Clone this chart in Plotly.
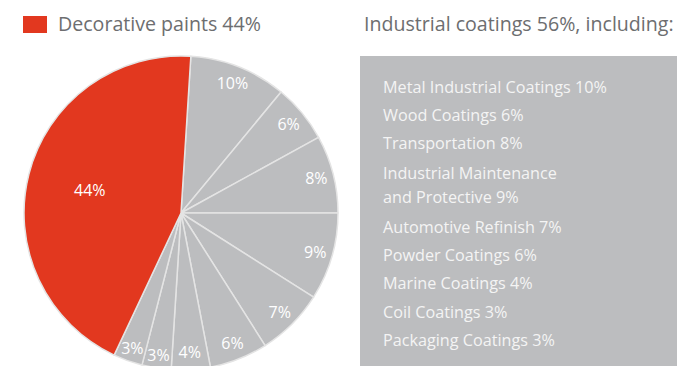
import plotly.graph_objects as go

# ---- data ----
segments = ["Metal Industrial Coatings", "Wood Coatings", "Transportation",
            "Industrial Maintenance and Protective", "Automotive Refinish",
            "Powder Coatings", "Marine Coatings", "Coil Coatings",
            "Packaging Coatings", "Decorative paints"]
shares = [10, 6, 8, 9, 7, 6, 4, 3, 3, 44]
box_labels = ["Metal Industrial Coatings 10%", "Wood Coatings 6%", "Transportation 8%",
              "Industrial Maintenance<br>and Protective 9%", "Automotive Refinish 7%",
              "Powder Coatings 6%", "Marine Coatings 4%", "Coil Coatings 3%",
              "Packaging Coatings 3%"]
legend_red = "Decorative paints 44%"
legend_gray = "Industrial coatings 56%, including:"

RED = "#e2381f"
GRAY = "#bcbdbf"
FONT = "Open Sans"
W, H = 677, 372   # slightly taller than the window so the pie is clipped at the bottom


def px(x):
    return x / W


def py(y):
    return 1 - y / H


colors = [GRAY] * 9 + [RED]
is_red = [s == "Decorative paints" for s in segments]
pct = [f"{v}%" for v in shares]

CX, CY, R = 181, 213, 157
dom_x = [px(CX - R), px(CX + R)]
dom_y = [py(CY + R), py(CY - R)]

common = dict(labels=segments, values=shares, sort=False, direction="clockwise",
              rotation=3.6, textinfo="text", textposition="inside",
              insidetextorientation="horizontal",
              textfont=dict(family=FONT, size=16, color="white"),
              domain=dict(x=dom_x, y=dom_y), showlegend=False)

fig = go.Figure()
# full pie: the coloured slices
fig.add_trace(go.Pie(
    marker=dict(colors=colors, line=dict(color="#e4e4e4", width=1.5)),
    text=[""] * len(shares), hoverinfo="label+value", **common))
# transparent ring carrying the big-slice label
fig.add_trace(go.Pie(
    hole=0.2, marker=dict(colors=["rgba(0,0,0,0)"] * len(shares), line=dict(width=0)),
    text=[p if r else "" for p, r in zip(pct, is_red)], hoverinfo="skip", **common))
# transparent ring carrying the small-slice labels near the rim
fig.add_trace(go.Pie(
    hole=0.78, marker=dict(colors=["rgba(0,0,0,0)"] * len(shares), line=dict(width=0)),
    text=["" if r else p for p, r in zip(pct, is_red)], hoverinfo="skip", **common))

shapes = [
    dict(type="rect", xref="paper", yref="paper", x0=px(23), x1=px(47),
         y0=py(33), y1=py(16), fillcolor=RED, line=dict(width=0)),
    dict(type="rect", xref="paper", yref="paper", x0=px(360), x1=1,
         y0=0, y1=py(56), fillcolor=GRAY, line=dict(width=0), layer="below"),
]

annotations = [
    dict(text=legend_red, x=px(56), y=py(24), xref="paper", yref="paper",
         xanchor="left", yanchor="middle", showarrow=False,
         font=dict(family=FONT, size=19.6, color="#6d6e70")),
    dict(text=legend_gray, x=px(362), y=py(24), xref="paper", yref="paper",
         xanchor="left", yanchor="middle", showarrow=False,
         font=dict(family=FONT, size=19.6, color="#6d6e70")),
]

y_cur = 86.7
for lab in box_labels:
    lines = lab.split("<br>")
    multi = len(lines) > 1
    if multi:
        y_cur += 1.7
    for j, ln in enumerate(lines):
        annotations.append(dict(
            text=ln, x=px(381), y=py(y_cur), xref="paper", yref="paper",
            xanchor="left", yanchor="middle", showarrow=False,
            font=dict(family=FONT, size=16.2, color="#f4f4f4")))
        if j < len(lines) - 1:
            y_cur += 23.4
    if multi:
        y_cur += 1.7
    y_cur += 28.3

fig.update_layout(
    width=W, height=H, margin=dict(l=0, r=0, t=0, b=0),
    paper_bgcolor="white", plot_bgcolor="white",
    shapes=shapes, annotations=annotations,
    uniformtext=dict(minsize=16, mode="show"),
)
fig.write_html(
    "out.html",
    config={"displayModeBar": False},
    post_script="document.body.style.margin='0';document.body.style.overflow='hidden';"
                "document.documentElement.style.overflow='hidden';",
)
